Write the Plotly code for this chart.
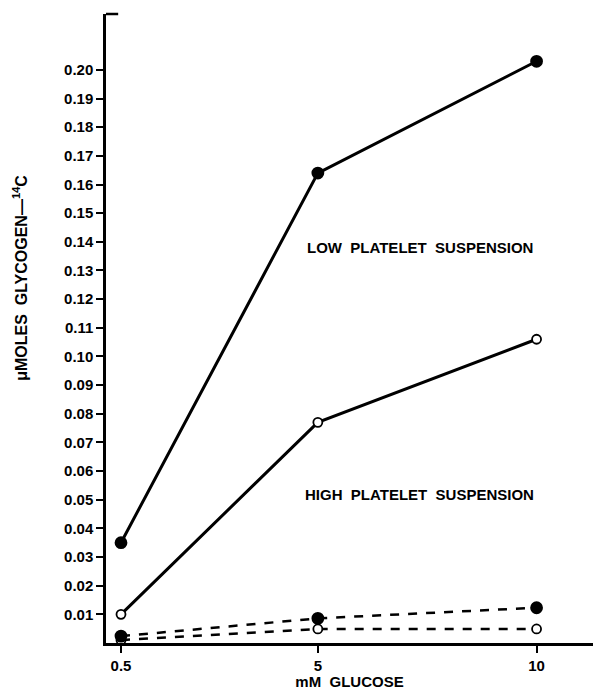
import plotly.graph_objects as go

glucose = [0.5, 5, 10]
low_filled = [0.035, 0.164, 0.203]
low_open = [0.010, 0.077, 0.106]
high_filled = [0.0024, 0.0086, 0.0123]
high_open = [0.0010, 0.0049, 0.0049]

y_ticks = [round(0.01 * i, 2) for i in range(1, 21)]
y_ticktext = [f"<b>{v:.2f}</b>" for v in y_ticks]
x_ticks = [0.5, 5, 10]
x_ticktext = ["<b>0.5</b>", "<b>5</b>", "<b>10</b>"]

FONT = "Liberation Sans"
SP = "\u00a0\u00a0"

fig = go.Figure()

def add(y, dash, filled, width):
    fig.add_trace(go.Scatter(
        x=glucose, y=y, mode="lines+markers",
        line=dict(color="black", width=width, dash=dash),
        marker=dict(size=11 if filled else 9, symbol="circle",
                    color="black" if filled else "white",
                    line=dict(color="black", width=1.8)),
        showlegend=False, cliponaxis=False))

add(high_open, "dash", False, 2.5)
add(high_filled, "dash", True, 2.5)
add(low_open, "solid", False, 3)
add(low_filled, "solid", True, 3)

fig.update_layout(
    width=593, height=690,
    margin=dict(l=106, r=0, t=14, b=47),
    paper_bgcolor="white", plot_bgcolor="white",
    font=dict(family=FONT, color="black"),
    xaxis=dict(range=[0.157, 11.29], tickvals=x_ticks, ticktext=x_ticktext,
               showline=True, linecolor="black", linewidth=2.5,
               ticks="outside", ticklen=7, tickwidth=2, tickcolor="black",
               showgrid=False, zeroline=False,
               tickfont=dict(size=15, family=FONT, color="black"),
               title=dict(text=f"<b>mM{SP}GLUCOSE</b>", font=dict(size=15), standoff=4)),
    yaxis=dict(range=[0, 0.2195], tickvals=y_ticks, ticktext=y_ticktext,
               showline=True, linecolor="black", linewidth=2.5,
               ticks="outside", ticklen=7, tickwidth=2, tickcolor="black",
               showgrid=False, zeroline=False,
               tickfont=dict(size=15, family=FONT, color="black")),
)

fig.add_shape(type="line", xref="x domain", yref="y domain",
              x0=0, x1=0.025, y0=1, y1=1, line=dict(color="black", width=2.5))

fig.add_annotation(text=f"<b>\u03bcMOLES{SP}GLYCOGEN\u2014<sup>14</sup>C</b>",
                   xref="paper", yref="paper", x=-0.2, y=0.58,
                   textangle=-90, showarrow=False, font=dict(size=16))
fig.add_annotation(text=f"<b>LOW{SP}PLATELET{SP}SUSPENSION</b>", x=7.33, y=0.138,
                   showarrow=False, font=dict(size=15))
fig.add_annotation(text=f"<b>HIGH{SP}PLATELET{SP}SUSPENSION</b>", x=7.33, y=0.0518,
                   showarrow=False, font=dict(size=15))

fig.write_html("out.html")
